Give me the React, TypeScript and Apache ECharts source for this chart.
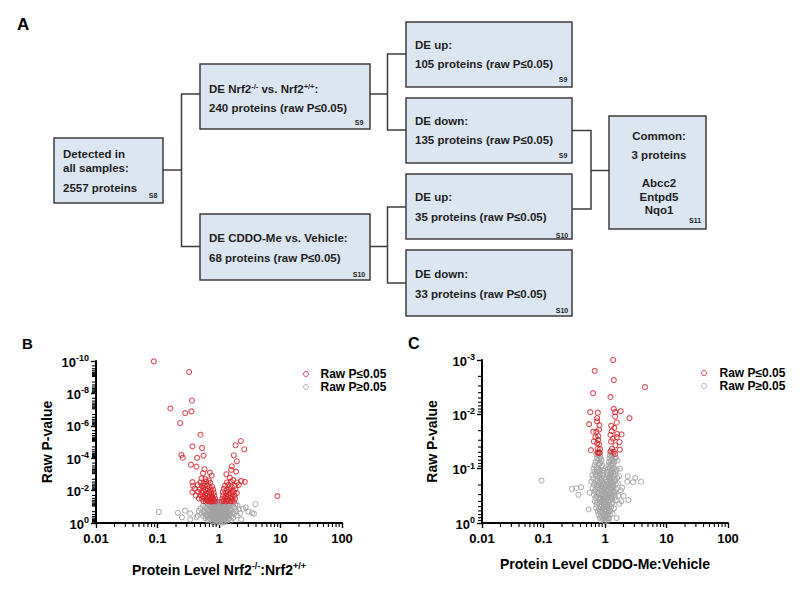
import React, { useEffect, useRef } from 'react';
import * as echarts from 'echarts';

const FONT = '"Liberation Sans", Arial, Helvetica, sans-serif';
const RED = '#d8232a';
const GREY = '#a3a3a3';
const BOX_FILL = '#dce6f2';
const LINE = '#3c3c3c';
const TXT = '#1e1e1e';

// ---------- Panel A content ----------
const boxTitleLines: string[][] = [
  ['Detected in', 'all samples:'],
  ['{t|DE Nrf2}{s|-/-}{t| vs. Nrf2}{s|+/+}{t|:}'],
  ['DE CDDO-Me vs. Vehicle:'],
  ['DE up:'],
  ['DE down:'],
  ['DE up:'],
  ['DE down:'],
  ['Common:'],
];
const boxCounts = [
  '2557 proteins',
  '240 proteins (raw P≤0.05)',
  '68 proteins (raw P≤0.05)',
  '105 proteins (raw P≤0.05)',
  '135 proteins (raw P≤0.05)',
  '35 proteins (raw P≤0.05)',
  '33 proteins (raw P≤0.05)',
  '3 proteins',
];
const boxRefs = ['S8', 'S9', 'S10', 'S9', 'S9', 'S10', 'S10', 'S11'];
const commonProteins = ['Abcc2', 'Entpd5', 'Nqo1'];

// ---------- Panels B / C content ----------
const panelLabels = ['A', 'B', 'C'];
const xTickLabels = ['0.01', '0.1', '1', '10', '100']; // log10 = -2..2
const legendNames = ['Raw P≤0.05', 'Raw P≥0.05'];
const xTitleB = '{t|Protein Level Nrf2}{s|-/-}{t|:Nrf2}{s|+/+}';
const xTitleC = 'Protein Level CDDO-Me:Vehicle';
const yTitle = 'Raw P-value';

// points: [protein level ratio, -log10(raw P)]
const nrf2Sig: number[][] = [
  [0.087, 9.98], [0.327, 9.32], [0.363, 7.56], [0.162, 7.07], [0.282, 6.78], [0.357, 6.89],
  [0.234, 6.17], [0.5, 5.45], [0.37, 4.73], [0.53, 4.63], [0.245, 4.2], [0.257, 4.03],
  [0.56, 4.16], [0.44, 4.02], [0.35, 3.6], [0.43, 3.48], [0.58, 3.32], [0.71, 3.11],
  [0.76, 2.93], [0.55, 3.07],
  [2.26, 5.06], [1.86, 4.8], [2.57, 4.55], [1.74, 4.18], [1.95, 3.81], [1.62, 3.5],
  [1.58, 3.28], [1.9, 3.17], [1.32, 3.01], [2.63, 2.54], [8.9, 1.66],
  [0.52, 2.75], [0.6, 2.7], [0.68, 2.62],
  [0.37, 2.52], [0.5, 2.5], [0.56, 2.45], [0.62, 2.55], [0.72, 2.48],
  [0.38, 2.3], [0.45, 2.35], [0.53, 2.28], [0.58, 2.32], [0.65, 2.3], [0.7, 2.22], [0.77, 2.25],
  [0.4, 2.12], [0.49, 2.08], [0.55, 2.15], [0.6, 2.05], [0.66, 2.1], [0.73, 2.02], [0.8, 2.07],
  [0.37, 1.9], [0.46, 1.92], [0.52, 1.88], [0.57, 1.95], [0.63, 1.85], [0.69, 1.9], [0.75, 1.82], [0.82, 1.88],
  [0.42, 1.7], [0.5, 1.72], [0.55, 1.65], [0.6, 1.75], [0.65, 1.68], [0.71, 1.7], [0.77, 1.63], [0.84, 1.7],
  [0.47, 1.52], [0.53, 1.5], [0.58, 1.55], [0.62, 1.45], [0.67, 1.52], [0.72, 1.48], [0.76, 1.55], [0.8, 1.45], [0.86, 1.5],
  [0.56, 1.35], [0.61, 1.33], [0.66, 1.37], [0.7, 1.32], [0.74, 1.35], [0.78, 1.33], [0.83, 1.36], [0.88, 1.34],
  [1.5, 2.8], [1.7, 2.65], [1.35, 2.5], [1.55, 2.55], [1.95, 2.5], [2.3, 2.6],
  [1.25, 2.3], [1.42, 2.35], [1.6, 2.25], [1.8, 2.3], [2.1, 2.35],
  [1.2, 2.1], [1.33, 2.05], [1.48, 2.12], [1.65, 2.0], [1.85, 2.08],
  [1.15, 1.9], [1.28, 1.85], [1.4, 1.92], [1.55, 1.82], [1.72, 1.9], [1.95, 1.85],
  [1.17, 1.7], [1.3, 1.65], [1.45, 1.72], [1.6, 1.62], [1.78, 1.7],
  [1.14, 1.5], [1.24, 1.52], [1.36, 1.47], [1.5, 1.55], [1.65, 1.48], [1.82, 1.5],
  [1.12, 1.34], [1.2, 1.36], [1.3, 1.33], [1.4, 1.37], [1.52, 1.34], [1.63, 1.35], [1.75, 1.33],
];

const nrf2NonSig: number[][] = [
  [0.105, 0.68], [0.214, 0.63], [0.25, 0.35], [0.28, 0.76], [0.34, 0.59], [0.34, 0.22], [0.43, 0.35],
  [3.9, 1.17], [3.45, 0.63], [3.7, 0.57], [2.72, 0.96], [3.0, 0.71], [2.3, 0.22], [2.45, 0.88],
  [0.65, 1.2], [0.78, 1.25], [0.9, 1.22], [1.0, 1.28], [1.1, 1.2], [1.3, 1.18], [1.55, 1.22], [1.85, 1.15],
  [0.55, 1.05], [0.7, 1.08], [0.82, 1.0], [0.92, 1.1], [1.04, 1.02], [1.16, 1.08], [1.28, 1.0], [1.45, 1.06], [1.7, 1.02], [2.0, 1.08],
  [0.5, 0.9], [0.62, 0.88], [0.74, 0.92], [0.85, 0.86], [0.96, 0.94], [1.08, 0.88], [1.2, 0.92], [1.35, 0.86], [1.55, 0.9], [1.8, 0.88], [2.1, 0.85],
  [0.47, 0.75], [0.58, 0.72], [0.68, 0.78], [0.8, 0.73], [0.9, 0.77], [1.0, 0.72], [1.12, 0.78], [1.25, 0.74], [1.4, 0.7], [1.62, 0.76], [1.9, 0.72],
  [0.52, 0.6], [0.63, 0.57], [0.73, 0.62], [0.84, 0.58], [0.95, 0.61], [1.06, 0.57], [1.18, 0.62], [1.32, 0.58], [1.5, 0.6], [1.75, 0.56], [2.2, 0.6],
  [0.45, 0.45], [0.56, 0.42], [0.66, 0.47], [0.77, 0.43], [0.88, 0.46], [0.98, 0.42], [1.1, 0.47], [1.22, 0.43], [1.38, 0.45], [1.6, 0.42], [1.95, 0.47],
  [0.6, 0.3], [0.7, 0.27], [0.81, 0.32], [0.92, 0.28], [1.03, 0.31], [1.14, 0.27], [1.28, 0.3], [1.45, 0.28], [1.7, 0.32],
  [0.66, 0.15], [0.78, 0.12], [0.88, 0.17], [0.97, 0.13], [1.07, 0.16], [1.18, 0.12], [1.33, 0.15], [1.55, 0.14],
  [0.8, 0.04], [0.92, 0.03], [1.0, 0.05], [1.1, 0.02], [1.22, 0.04],
  [0.85, 0.65], [0.93, 0.52], [1.02, 0.83], [1.12, 0.4], [0.88, 1.15], [1.15, 1.15], [0.95, 0.2], [1.05, 0.65],
  [0.76, 0.52], [1.25, 0.55], [0.98, 1.05], [1.05, 0.95], [0.9, 0.38], [1.08, 0.22], [0.8, 0.95], [1.2, 0.8],
  [0.72, 1.15], [0.84, 1.12], [0.95, 1.18], [1.06, 1.12], [1.22, 1.12], [1.4, 1.14],
  [0.6, 0.98], [0.76, 1.0], [0.87, 0.97], [0.99, 0.99], [1.1, 0.97], [1.23, 0.99], [1.38, 0.96],
  [0.66, 0.83], [0.79, 0.84], [0.9, 0.82], [1.01, 0.82], [1.14, 0.85], [1.3, 0.82], [1.48, 0.82],
  [0.57, 0.66], [0.69, 0.68], [0.8, 0.66], [0.91, 0.7], [1.04, 0.68], [1.15, 0.7], [1.28, 0.66], [1.43, 0.66],
  [0.61, 0.5], [0.72, 0.52], [0.83, 0.5], [0.96, 0.54], [1.08, 0.52], [1.19, 0.5], [1.32, 0.52], [1.5, 0.5],
  [0.65, 0.38], [0.75, 0.36], [0.86, 0.4], [1.0, 0.36], [1.13, 0.38], [1.24, 0.36], [1.4, 0.38],
  [0.73, 0.21], [0.84, 0.24], [1.0, 0.22], [1.12, 0.21], [1.26, 0.23], [1.42, 0.2],
  [0.86, 0.09], [0.98, 0.08], [1.15, 0.07], [0.97, 1.3], [1.03, 1.29],
];

const cddoSig: number[][] = [
  [1.36, 3.0], [0.68, 2.8], [1.39, 2.63], [4.47, 2.5], [0.64, 2.39], [1.23, 2.32],
  [0.575, 2.04], [0.764, 2.03], [1.39, 2.1], [1.46, 2.04], [1.46, 1.96], [1.8, 2.06], [2.5, 1.93],
  [0.745, 1.93], [0.745, 1.87], [0.552, 1.82], [0.813, 1.8], [1.55, 1.85], [1.26, 1.79],
  [0.646, 1.68], [0.724, 1.68], [1.29, 1.69], [1.23, 1.62], [1.58, 1.64], [1.86, 1.63],
  [0.776, 1.6], [0.776, 1.53], [1.55, 1.58], [1.72, 1.49], [0.745, 1.47], [1.26, 1.5],
  [0.59, 1.34], [0.76, 1.37], [0.83, 1.36], [0.79, 1.3], [1.3, 1.37], [1.39, 1.31],
  [1.23, 1.32], [1.74, 1.35], [1.48, 1.43], [0.66, 1.5], [0.82, 1.29], [0.76, 1.29], [1.46, 1.27],
  [0.8, 1.45], [0.7, 1.58], [1.35, 1.55], [1.42, 1.75], [0.8, 1.72],
];

const cddoNonSig: number[][] = [
  [0.72, 1.27], [0.78, 1.25], [0.84, 1.22], [1.2, 1.25], [1.28, 1.22], [1.36, 1.27], [1.5, 1.2],
  [0.7, 1.12], [0.76, 1.15], [0.83, 1.1], [0.88, 1.14], [1.16, 1.12], [1.24, 1.15], [1.33, 1.1], [1.42, 1.13], [1.6, 1.15],
  [0.65, 1.0], [0.73, 1.02], [0.8, 0.98], [0.87, 1.03], [0.92, 0.97], [1.12, 1.0], [1.2, 1.03], [1.3, 0.97], [1.4, 1.01], [1.55, 0.98],
  [0.62, 0.88], [0.7, 0.9], [0.77, 0.86], [0.84, 0.9], [0.91, 0.87], [1.1, 0.89], [1.18, 0.86], [1.26, 0.9], [1.36, 0.87], [1.48, 0.9], [1.7, 0.86],
  [0.6, 0.76], [0.68, 0.74], [0.75, 0.78], [0.82, 0.75], [0.89, 0.77], [0.95, 0.73], [1.07, 0.76], [1.15, 0.74], [1.23, 0.78], [1.33, 0.75], [1.45, 0.77], [1.62, 0.73],
  [0.63, 0.64], [0.7, 0.62], [0.77, 0.66], [0.84, 0.63], [0.9, 0.65], [0.96, 0.61], [1.03, 0.64], [1.1, 0.62], [1.18, 0.66], [1.27, 0.63], [1.38, 0.65], [1.55, 0.62], [1.8, 0.6],
  [0.66, 0.52], [0.73, 0.5], [0.8, 0.54], [0.87, 0.51], [0.93, 0.53], [0.99, 0.5], [1.05, 0.54], [1.12, 0.51], [1.2, 0.53], [1.3, 0.5], [1.42, 0.52], [1.65, 0.5],
  [0.68, 0.4], [0.75, 0.38], [0.82, 0.42], [0.88, 0.39], [0.94, 0.41], [1.0, 0.38], [1.06, 0.42], [1.13, 0.39], [1.22, 0.41], [1.34, 0.38], [1.5, 0.42], [1.85, 0.4],
  [0.72, 0.28], [0.79, 0.26], [0.86, 0.3], [0.92, 0.27], [0.97, 0.29], [1.02, 0.26], [1.08, 0.3], [1.15, 0.27], [1.25, 0.29], [1.4, 0.27],
  [0.78, 0.16], [0.85, 0.14], [0.91, 0.18], [0.96, 0.15], [1.01, 0.17], [1.06, 0.14], [1.12, 0.18], [1.2, 0.15], [1.32, 0.17],
  [0.86, 0.05], [0.93, 0.07], [0.98, 0.03], [1.03, 0.06], [1.1, 0.04], [1.17, 0.08],
  [0.8, 1.18], [1.25, 1.07], [0.74, 0.95], [1.35, 0.93], [0.86, 0.82], [1.22, 0.84], [0.78, 0.7], [1.3, 0.7],
  [0.9, 0.58], [1.15, 0.58], [0.82, 0.46], [1.25, 0.46], [0.95, 0.34], [1.1, 0.34], [0.88, 0.22], [1.15, 0.22],
  [1.0, 0.1], [0.94, 0.45], [1.05, 0.47], [1.4, 0.58],
  [0.093, 0.78], [0.29, 0.63], [0.34, 0.64], [0.41, 0.66], [0.37, 0.52], [2.35, 0.86], [3.1, 0.83],
  [3.85, 0.76], [2.85, 0.75], [2.3, 0.76], [2.4, 0.42], [0.54, 0.25], [1.55, 0.09],
  [1.9, 0.65], [2.0, 0.5], [1.7, 0.35], [1.75, 1.0], [0.56, 0.56],
  [0.75, 1.3], [0.82, 1.29], [1.22, 1.3], [1.3, 1.3],
  [0.74, 1.19], [0.86, 1.18], [1.18, 1.19], [1.31, 1.18], [1.45, 1.2],
  [0.68, 1.06], [0.79, 1.07], [0.9, 1.06], [1.14, 1.06], [1.28, 1.05], [1.37, 1.07],
  [0.67, 0.94], [0.77, 0.93], [0.85, 0.95], [0.93, 0.92], [1.08, 0.94], [1.16, 0.95], [1.25, 0.93], [1.45, 0.95],
  [0.64, 0.82], [0.72, 0.81], [0.8, 0.83], [0.88, 0.81], [0.97, 0.83], [1.05, 0.81], [1.13, 0.83], [1.2, 0.81], [1.3, 0.83], [1.42, 0.81], [1.58, 0.83],
  [0.66, 0.7], [0.73, 0.69], [0.81, 0.71], [0.87, 0.69], [0.93, 0.71], [1.0, 0.69], [1.06, 0.71], [1.13, 0.69], [1.21, 0.71], [1.35, 0.69], [1.5, 0.71],
  [0.68, 0.58], [0.75, 0.57], [0.86, 0.59], [0.97, 0.57], [1.08, 0.59], [1.22, 0.57], [1.33, 0.59], [1.48, 0.57],
  [0.7, 0.46], [0.78, 0.47], [0.86, 0.45], [0.98, 0.46], [1.09, 0.45], [1.18, 0.47], [1.3, 0.45], [1.45, 0.47],
  [0.73, 0.34], [0.82, 0.35], [0.89, 0.33], [1.03, 0.34], [1.18, 0.33], [1.28, 0.35],
  [0.76, 0.22], [0.83, 0.21], [0.98, 0.22], [1.04, 0.21], [1.22, 0.22],
  [0.82, 0.1], [0.9, 0.1], [1.06, 0.11], [1.13, 0.09],
];

// ---------- Layout (positions / sizes) ----------
const boxRects = [
  [54, 138, 109, 65], [200, 64, 170, 65], [200, 214, 170, 66], [406, 22, 166, 65],
  [406, 98, 166, 65], [406, 174, 166, 65], [406, 250, 166, 66], [609, 116, 97, 113],
];
const titleY = [[154, 168], [88], [238], [45], [121], [197], [274], [136]];
const countY = [188, 108, 258, 64, 140, 217, 294, 155];
const textX = [63, 209, 209, 415, 415, 415, 415, 659];
const refPos = [[153, 195], [359, 122], [359, 274], [563, 79], [563, 155], [562, 235], [562, 310], [695, 220]];
const commonY = [183, 197, 210];
const connectors = [
  [[163, 170], [181.5, 170]],
  [[200, 94], [181.5, 94], [181.5, 246.5], [200, 246.5]],
  [[370, 94], [387.5, 94]],
  [[406, 54], [387.5, 54], [387.5, 130], [406, 130]],
  [[370, 246.5], [387.5, 246.5]],
  [[406, 207], [387.5, 207], [387.5, 283], [406, 283]],
  [[572, 130.5], [591, 130.5], [591, 209], [572, 209]],
  [[591, 170.5], [609, 170.5]],
];
const panelLabelPos = [[17, 16, 17], [22, 336, 15], [408, 335, 16]];

const richSup = {
  t: { fontSize: 11.5, fontWeight: 'bold', fontFamily: FONT, fill: TXT, color: TXT, verticalAlign: 'bottom', lineHeight: 14 },
  s: { fontSize: 7.5, fontWeight: 'bold', fontFamily: FONT, fill: TXT, color: TXT, verticalAlign: 'bottom', padding: [0, 0, 5, 0] },
};

const titleRichB = {
  t: { fontSize: 14, fontWeight: 'bold', fontFamily: FONT, color: '#000', verticalAlign: 'bottom', lineHeight: 17 },
  s: { fontSize: 9, fontWeight: 'bold', fontFamily: FONT, color: '#000', verticalAlign: 'bottom', padding: [0, 0, 7, 0] },
};

function textEl(x: number, y: number, text: string, opts: any = {}) {
  return {
    type: 'text',
    x,
    y,
    silent: true,
    style: {
      text,
      fontFamily: FONT,
      fontWeight: 'bold',
      fontSize: 11.5,
      fill: TXT,
      align: 'left',
      verticalAlign: 'middle',
      ...opts,
    },
  };
}

function buildPanelA(): any[] {
  const els: any[] = [];
  connectors.forEach((pts) => {
    els.push({ type: 'polyline', silent: true, shape: { points: pts }, style: { stroke: LINE, lineWidth: 1.5, fill: 'none' } });
  });
  boxRects.forEach((r, i) => {
    els.push({
      type: 'rect', silent: true,
      shape: { x: r[0], y: r[1], width: r[2], height: r[3] },
      style: { fill: BOX_FILL, stroke: LINE, lineWidth: 1.5 },
    });
    const center = i === 7;
    const align = center ? 'center' : 'left';
    boxTitleLines[i].forEach((line, j) => {
      if (line.indexOf('{') >= 0) {
        els.push(textEl(textX[i], titleY[i][j], line, { align, rich: richSup }));
      } else {
        els.push(textEl(textX[i], titleY[i][j], line, { align }));
      }
    });
    els.push(textEl(textX[i], countY[i], boxCounts[i], { align }));
    els.push(textEl(refPos[i][0], refPos[i][1], boxRefs[i], { align: 'center', fontSize: 7 }));
  });
  commonProteins.forEach((p, k) => {
    els.push(textEl(textX[7], commonY[k], p, { align: 'center' }));
  });
  panelLabels.forEach((l, k) => {
    const [x, y, fs] = panelLabelPos[k];
    els.push(textEl(x, y, l, { fontSize: fs, verticalAlign: 'top', fill: '#000' }));
  });
  return els;
}

const toXY = (pts: number[][]) => pts.map(([f, q]) => [Math.log10(f), q]);

function minorValues(fromDecade: number, toDecade: number, upward: boolean): number[] {
  const out: number[] = [];
  for (let d = fromDecade; d < toDecade; d++) {
    for (let k = 2; k <= 9; k++) out.push(upward ? d + 1 - Math.log10(k) : d + Math.log10(k));
  }
  return out;
}

function minorTickSeries(values: number[], axis: 'x' | 'y', gi: number, xMin: number, yMin: number) {
  return {
    type: 'custom',
    xAxisIndex: gi,
    yAxisIndex: gi,
    silent: true,
    clip: false,
    z: 10,
    data: values.map((v) => (axis === 'x' ? [v, yMin] : [xMin, v])),
    renderItem: (_p: any, api: any) => {
      const c = api.coord([api.value(0), api.value(1)]);
      if (axis === 'x') {
        return { type: 'line', shape: { x1: c[0], y1: c[1] + 1, x2: c[0], y2: c[1] + 4 }, style: { stroke: '#000', lineWidth: 1.1 } };
      }
      return { type: 'line', shape: { x1: c[0] - 4, y1: c[1], x2: c[0] - 1, y2: c[1] }, style: { stroke: '#000', lineWidth: 1.1 } };
    },
  };
}

const axisLabelRich = {
  b: { fontSize: 13, fontWeight: 'bold', fontFamily: FONT, color: '#000', verticalAlign: 'bottom', lineHeight: 15 },
  s: { fontSize: 9, fontWeight: 'bold', fontFamily: FONT, color: '#000', verticalAlign: 'bottom', padding: [0, 0, 6, 0] },
};

function xAxisDef(gi: number, name: string, gap: number, rich?: any) {
  return {
    type: 'value',
    gridIndex: gi,
    min: -2,
    max: 2,
    interval: 1,
    name,
    nameLocation: 'middle',
    nameGap: gap,
    nameTextStyle: { fontFamily: FONT, fontWeight: 'bold', fontSize: 14, color: '#000', rich },
    axisLine: { show: true, onZero: false, lineStyle: { color: '#000', width: 2 } },
    axisTick: { show: true, inside: false, length: 5, lineStyle: { color: '#000', width: 1.4 } },
    splitLine: { show: false },
    axisLabel: {
      margin: 9,
      fontFamily: FONT, fontWeight: 'bold', fontSize: 13, color: '#000',
      formatter: (v: number) => xTickLabels[Math.round(v) + 2] ?? '',
    },
  };
}

function yAxisDef(gi: number, max: number, interval: number, gap: number) {
  return {
    type: 'value',
    gridIndex: gi,
    min: 0,
    max,
    interval,
    name: yTitle,
    nameLocation: 'middle',
    nameGap: gap,
    nameTextStyle: { fontFamily: FONT, fontWeight: 'bold', fontSize: 14, color: '#000' },
    axisLine: { show: true, onZero: false, lineStyle: { color: '#000', width: 2 } },
    axisTick: { show: true, inside: false, length: 5, lineStyle: { color: '#000', width: 1.4 } },
    splitLine: { show: false },
    axisLabel: {
      margin: 7,
      rich: axisLabelRich,
      formatter: (v: number) => (v === 0 ? '{b|10}{s|0}' : `{b|10}{s|-${v}}`),
    },
  };
}

function scatter(name: string, gi: number, data: number[][], color: string, z: number) {
  return {
    type: 'scatter',
    name,
    xAxisIndex: gi,
    yAxisIndex: gi,
    data: toXY(data),
    symbol: 'circle',
    symbolSize: 5,
    z,
    emphasis: { disabled: true },
    itemStyle: { color: 'rgba(0,0,0,0)', borderColor: color, borderWidth: 1.1 },
  };
}

function legendDef(left: number, top: number, padLeft: number) {
  return {
    left,
    top,
    orient: 'vertical',
    itemWidth: 5,
    itemHeight: 5,
    itemGap: 1,
    selectedMode: false,
    data: [
      { name: legendNames[0], icon: 'circle', itemStyle: { color: 'rgba(0,0,0,0)', borderColor: RED, borderWidth: 1 } },
      { name: legendNames[1], icon: 'circle', itemStyle: { color: 'rgba(0,0,0,0)', borderColor: GREY, borderWidth: 1 } },
    ],
    textStyle: { fontFamily: FONT, fontWeight: 'bold', fontSize: 12, color: '#000', padding: [0, 0, 0, padLeft] },
  };
}

export default function App() {
  const ref = useRef<HTMLDivElement>(null);
  useEffect(() => {
    if (!ref.current) return;
    const chart = echarts.init(ref.current, undefined, { renderer: 'svg' });
    const option: any = {
      animation: false,
      backgroundColor: '#ffffff',
      grid: [
        { left: 96, top: 361, width: 246, height: 162 },
        { left: 482, top: 360, width: 246, height: 163 },
      ],
      xAxis: [xAxisDef(0, xTitleB, 37, titleRichB), xAxisDef(1, xTitleC, 34)],
      yAxis: [yAxisDef(0, 10, 2, 42), yAxisDef(1, 3, 1, 43)],
      legend: [legendDef(298, 363, 7), legendDef(696, 362, 8)],
      series: [
        scatter(legendNames[1], 0, nrf2NonSig, GREY, 2),
        scatter(legendNames[0], 0, nrf2Sig, RED, 3),
        scatter(legendNames[1], 1, cddoNonSig, GREY, 2),
        scatter(legendNames[0], 1, cddoSig, RED, 3),
        minorTickSeries(minorValues(-2, 2, false), 'x', 0, -2, 0),
        minorTickSeries(minorValues(0, 10, true), 'y', 0, -2, 0),
        minorTickSeries(minorValues(-2, 2, false), 'x', 1, -2, 0),
        minorTickSeries(minorValues(0, 3, true), 'y', 1, -2, 0),
      ],
      graphic: buildPanelA(),
    };
    chart.setOption(option);
    return () => chart.dispose();
  }, []);
  return <div ref={ref} style={{ position: 'absolute', left: 0, top: 0, width: 800, height: 593 }} />;
}
